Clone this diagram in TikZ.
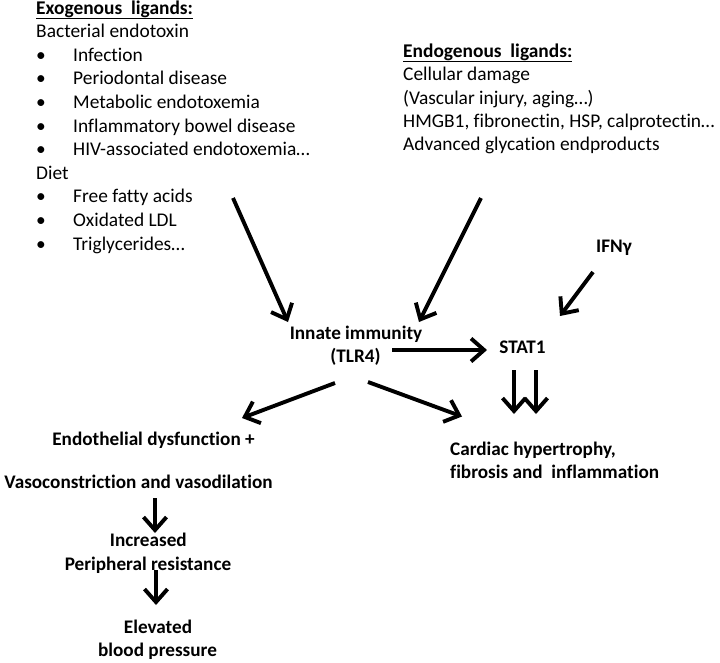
\documentclass[tikz,border=0pt]{standalone}
\usepackage{fontspec}
\setmainfont{Carlito}[Ligatures={NoCommon}]
\usetikzlibrary{arrows.meta}
\begin{document}
\begin{tikzpicture}[x=1pt,y=-1pt,
  txt/.style={inner sep=0pt, anchor=base west, font=\fontsize{19.4}{23.5}\selectfont},
  bul/.style={inner sep=0pt, anchor=base west, font=\fontsize{19.4}{23.5}\selectfont},
  bld/.style={inner sep=0pt, anchor=base, font=\fontsize{19.2}{23}\selectfont\bfseries},
  bldl/.style={inner sep=0pt, anchor=base west, font=\fontsize{19.2}{23}\selectfont\bfseries},
  arr/.style={line width=3.9pt, -{Straight Barb[length=13pt,width=23pt]}}]
\useasboundingbox (0,0) rectangle (720,662);
% Exogenous ligands
\node[txt] (exoh) at (36,14) {\textbf{\underline{Exogenous\ \ ligands:}}};
\node[txt] (bact) at (36,37.6) {Bacterial endotoxin};
\foreach \i/\t in {2/Infection,3/Periodontal disease,4/Metabolic endotoxemia,5/Inflammatory bowel disease,6/HIV-associated endotoxemia\ldots}{
  \node[bul] (bb\i) at (36,{14+23.6*\i}) {•};
  \node[txt] (item\i) at (73,{14+23.6*\i}) {\t};
}
\node[txt] (diet) at (36,179.2) {Diet};
\foreach \i/\t in {8/Free fatty acids,9/Oxidated LDL,10/Triglycerides\ldots}{
  \node[bul] (bb\i) at (36,{14+23.6*\i}) {•};
  \node[txt] (item\i) at (73,{14+23.6*\i}) {\t};
}
% Endogenous ligands
\node[txt] (endoh) at (403,57) {\textbf{\underline{Endogenous\ \ ligands:}}};
\node[txt] (endo1) at (403,80.5) {Cellular damage};
\node[txt] (endo2) at (403,104) {(Vascular injury, aging\ldots)};
\node[txt] (endo3) at (403,127) {HMGB1, fibronectin, HSP, calprotectin\ldots};
\node[txt] (endo4) at (403,150.5) {Advanced glycation endproducts};
% Bold labels
\node[bld] (innate) at (356,339.5) {Innate immunity};
\node[bld] (tlr) at (355.5,362.5) {(TLR4)};
\node[bld] (stat) at (522.5,353) {STAT1};
\node[bld] (ifn) at (614,252) {IFNγ};
\node[bld] (endoth) at (153.5,445) {Endothelial\ dysfunction +};
\node[bld] (vaso) at (138.5,488.3) {Vasoconstriction and vasodilation};
\node[bldl] (card) at (450,455) {Cardiac hypertrophy,};
\node[bldl] (fib) at (450,478.3) {fibrosis and\ \ inflammation};
\node[bld] (incr) at (148.3,546.7) {Increased};
\node[bld] (peri) at (148,570) {Peripheral resistance};
\node[bld] (elev) at (158,633.3) {Elevated};
\node[bld] (blood) at (157.5,656.7) {blood pressure};
% connector end points
\coordinate (exoOut) at (233,198);
\coordinate (innIn1) at (288,322);
\coordinate (endoOut) at (481,198);
\coordinate (innIn2) at (419,322);
\coordinate (ifnOut) at (593,272);
\coordinate (statIn1) at (560,316);
\coordinate (tlrOut) at (392,350);
\coordinate (statIn2) at (487,350);
\coordinate (statOutA) at (514,370);
\coordinate (cardInA) at (514,414);
\coordinate (statOutB) at (536,370);
\coordinate (cardInB) at (536,414);
\coordinate (tlrOutL) at (335,383);
\coordinate (endIn) at (242,418);
\coordinate (tlrOutR) at (368,382);
\coordinate (cardIn) at (462,416.5);
\coordinate (vasoOut) at (155,498);
\coordinate (incrIn) at (155,533);
\coordinate (periOut) at (156,570);
\coordinate (elevIn) at (156,605);
\draw[arr] (exoOut) -- (innIn1);
\draw[arr] (endoOut) -- (innIn2);
\draw[arr] (ifnOut) -- (statIn1);
\draw[arr] (tlrOut) -- (statIn2);
\draw[arr] (statOutA) -- (cardInA);
\draw[arr] (statOutB) -- (cardInB);
\draw[arr] (tlrOutL) -- (endIn);
\draw[arr] (tlrOutR) -- (cardIn);
\draw[arr] (vasoOut) -- (incrIn);
\draw[arr] (periOut) -- (elevIn);
\end{tikzpicture}
\end{document}
